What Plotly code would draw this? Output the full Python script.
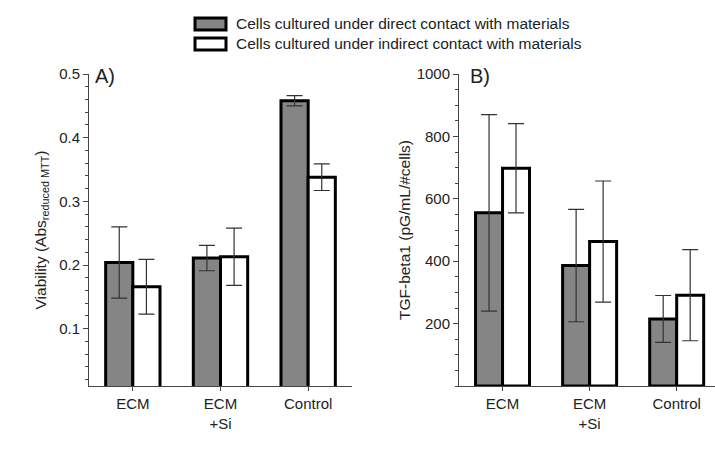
import plotly.graph_objects as go

categories = ["ECM", "ECM<br>+Si", "Control"]
series_names = ["Cells cultured under direct contact with materials",
                "Cells cultured under indirect contact with materials"]

# Panel A: viability
via_direct = [0.204, 0.211, 0.458]
via_direct_err = [0.056, 0.020, 0.008]
via_indirect = [0.166, 0.213, 0.338]
via_indirect_err = [0.043, 0.045, 0.021]

# Panel B: TGF-beta1
tgf_direct = [555, 386, 215]
tgf_direct_err = [315, 180, 75]
tgf_indirect = [698, 463, 291]
tgf_indirect_err = [143, 194, 146]

ticks_a = [0.1, 0.2, 0.3, 0.4, 0.5]
ticks_b = [200, 400, 600, 800, 1000]

W, H = 715, 450
FONT = "Liberation Sans, Arial, sans-serif"
GRAY = "#858585"
AX = "#444444"
ERR = "#333333"

fig = go.Figure()

def add_bars(xaxis, yaxis, vals, errs, color):
    fig.add_trace(go.Bar(
        x=categories, y=vals, xaxis=xaxis, yaxis=yaxis,
        marker=dict(color=color, line=dict(color="black", width=3)),
        error_y=dict(type="data", array=errs, color=ERR, thickness=1.2, width=8),
        showlegend=False, hoverinfo="skip"))

add_bars("x", "y", via_direct, via_direct_err, GRAY)
add_bars("x", "y", via_indirect, via_indirect_err, "white")
add_bars("x2", "y2", tgf_direct, tgf_direct_err, GRAY)
add_bars("x2", "y2", tgf_indirect, tgf_indirect_err, "white")

top, bottom = 74, 386
ph = bottom - top

def py(p):
    return (bottom - p) / ph

axis_common = dict(showline=True, linecolor=AX, linewidth=1, ticks="outside",
                   tickcolor=AX, showgrid=False, zeroline=False,
                   tickfont=dict(family=FONT, size=15, color="#222"))

fig.update_layout(
    width=W, height=H,
    margin=dict(l=0, r=0, t=top, b=H - bottom),
    paper_bgcolor="white", plot_bgcolor="white",
    barmode="group", bargap=0.38, bargroupgap=0,
    showlegend=False,
    xaxis=dict(domain=[89 / W, 352 / W], range=[-0.5, 2.5], anchor="y", ticklen=4,
               **axis_common),
    xaxis2=dict(domain=[459 / W, 1.0], range=[-0.5, 2.44], anchor="y2", ticklen=4,
                **axis_common),
    yaxis=dict(range=[0.01, 0.5], tickvals=ticks_a, ticktext=[str(t) for t in ticks_a],
               anchor="x", ticklen=5,
               minor=dict(tickmode="linear", tick0=0, dtick=0.02, ticks="outside",
                          ticklen=3, tickcolor=AX),
               title=dict(text="Viability (Abs<sub>reduced MTT</sub>)", standoff=8,
                          font=dict(family=FONT, size=15.5, color="#222")),
               **axis_common),
    yaxis2=dict(range=[0, 1000], tickvals=ticks_b, ticktext=[str(t) for t in ticks_b],
                anchor="x2", ticklen=5,
                minor=dict(tickmode="linear", tick0=0, dtick=50, ticks="outside",
                           ticklen=3, tickcolor=AX),
                title=dict(text="TGF-beta1 (pG/mL/#cells)", standoff=2,
                           font=dict(family=FONT, size=15.5, color="#222")),
                **axis_common),
)

# Panel labels
for lbl, xp in [("A)", 93), ("B)", 468)]:
    fig.add_annotation(text=lbl, xref="paper", yref="paper", x=xp / W, y=py(76),
                       xanchor="left", yanchor="middle", showarrow=False,
                       font=dict(family=FONT, size=20, color="#222"))

# Legend (drawn)
legend_rows = [(GRAY, 18, 30, 24), ("white", 38, 50, 44)]
for (col, y0, y1, yc), name in zip(legend_rows, series_names):
    fig.add_shape(type="rect", xref="paper", yref="paper",
                  x0=195 / W, x1=226 / W, y0=py(y1), y1=py(y0),
                  fillcolor=col, line=dict(color="black", width=3))
    fig.add_annotation(text=name, xref="paper", yref="paper", x=234 / W, y=py(yc),
                       xanchor="left", yanchor="middle", showarrow=False,
                       font=dict(family=FONT, size=15.5, color="#222"))

fig.write_html("out.html", config={"displayModeBar": False},
               post_script="document.body.style.margin='0';document.body.style.overflow='hidden';")
